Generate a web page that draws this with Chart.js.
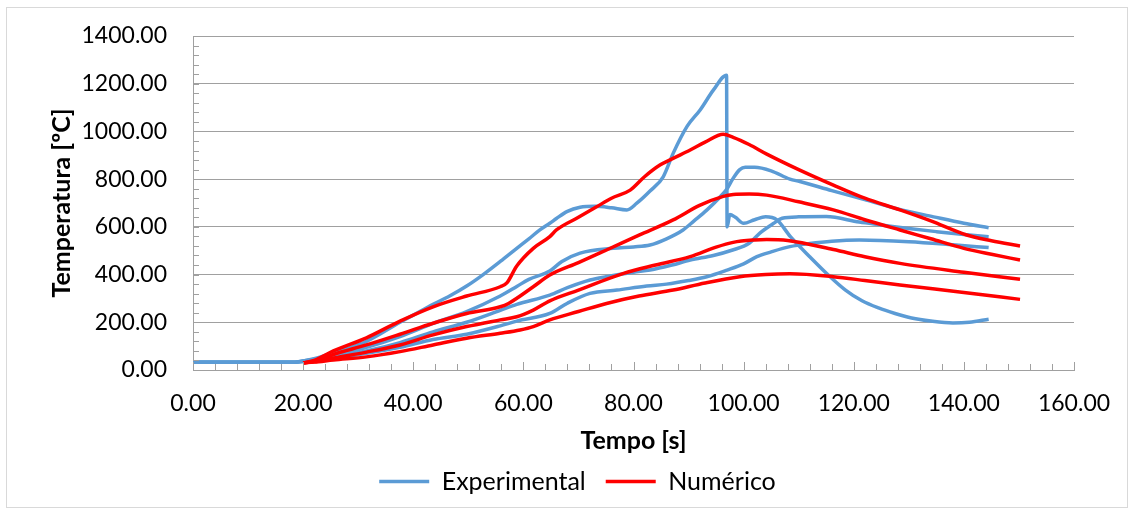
<!DOCTYPE html>
<html>
<head>
<meta charset="utf-8">
<script src="https://cdn.jsdelivr.net/npm/chart.js@4.4.1/dist/chart.umd.min.js"></script>
<style>
  html, body { margin: 0; padding: 0; background: #fff; }
  #wrap { width: 1134px; height: 515px; }
</style>
</head>
<body>
<div id="wrap"><canvas id="tempChart" width="1134" height="515"></canvas></div>
<script>
// experimental curves (time [s], temperature [ºC])
const exp1Time = [0, 18, 20, 22, 25.5, 31.5, 37.6, 40, 43.6, 46.6, 49.7, 52.7, 55.8, 58.8, 61, 63, 64.8, 66, 68, 70.3, 73, 76, 78.8, 80.6, 83, 85.4, 87.2, 89.7, 92.1, 94.5, 96.9, 97.0, 97.5, 98.5, 100, 102, 104, 106, 108.5, 112, 115.7, 118.5, 121.5, 124.5, 127.5, 130.5, 134, 138, 141, 144.5];
const exp1Temp = [32, 32, 38, 47, 72, 120, 200, 230, 275, 310, 352, 400, 455, 510, 550, 587, 615, 635, 665, 682, 686, 680, 671, 699, 750, 810, 908, 1020, 1090, 1173, 1236, 600, 652, 640, 615, 630, 642, 630, 559, 475, 391, 335, 290, 260, 237, 218, 205, 197, 200, 213];

const exp2Time = [0, 18, 20, 22, 25.5, 31.5, 37.6, 43.6, 49.7, 55.8, 58.8, 61, 64.8, 67, 70.3, 76.3, 80, 83, 86, 89, 91, 93.3, 95.5, 97, 98, 99.3, 100.3, 102, 105, 108.4, 110.2, 116, 122.3, 128, 134.5, 140, 144.5];
const exp2Temp = [32, 32, 38, 45, 62, 95, 140, 195, 245, 310, 350, 380, 415, 455, 490, 510, 516, 524, 550, 587, 625, 670, 720, 760, 800, 840, 850, 850, 835, 800, 790, 752, 712, 675, 642, 615, 596];

const exp3Time = [0, 18, 20, 22, 25.5, 31.5, 37.6, 43.6, 49.7, 55.8, 58.8, 64.8, 68, 72.1, 75, 80, 83, 87, 90.3, 94.5, 98, 101, 103, 105.4, 107, 110, 115, 121, 125, 130, 135, 140, 144.5];
const exp3Temp = [32, 32, 37, 43, 55, 80, 115, 160, 200, 250, 275, 314, 345, 377, 391, 410, 419, 440, 461, 480, 503, 531, 575, 614, 636, 642, 643, 620, 608, 593, 580, 568, 559];

const exp4Time = [0, 18, 20, 22, 25.5, 31.5, 37.6, 43.6, 49.7, 55.8, 58.8, 64.8, 68, 72.1, 77, 82.4, 86, 90, 93.3, 97, 100, 102.4, 105, 108.4, 112, 116, 121, 130, 138, 144.5];
const exp4Temp = [32, 32, 36, 42, 50, 70, 95, 128, 150, 185, 205, 237, 280, 321, 335, 352, 360, 375, 391, 419, 445, 475, 495, 517, 530, 540, 545, 538, 525, 513];

// numerical curves
const num1Time = [20, 22, 25.5, 31.5, 37.6, 43.6, 49.7, 55.8, 57, 58.8, 61.8, 64.8, 66, 70, 73.3, 76, 79.4, 82, 84.8, 87, 90.3, 93, 96.3, 98.1, 101, 104.2, 110, 116.3, 122, 128.4, 134, 140.5, 145, 150.2];
const num1Temp = [30, 40, 80, 135, 205, 265, 310, 349, 365, 436, 510, 559, 587, 640, 684, 720, 754, 810, 859, 885, 922, 955, 988, 975, 945, 905, 840, 775, 720, 671, 625, 566, 542, 520];

const num2Time = [20, 22, 25.5, 31.5, 37.6, 43.6, 49.7, 55.8, 57.3, 61.8, 64.8, 70, 75.1, 81, 87.2, 92, 96.3, 98.1, 101, 104.2, 110, 116.3, 122, 128.4, 134, 140, 145, 150.2];
const num2Temp = [30, 36, 65, 105, 150, 196, 237, 265, 279, 349, 398, 450, 503, 565, 629, 690, 728, 736, 738, 733, 705, 671, 630, 587, 550, 510, 485, 461];

const num3Time = [20, 22, 25.5, 31.5, 37.6, 43.6, 49.7, 55.8, 58.8, 61.8, 64.8, 70, 78.2, 84, 90.3, 95, 98.1, 102, 104.2, 108, 116.3, 122, 128.4, 140, 150.2];
const num3Temp = [30, 34, 50, 75, 105, 147, 182, 210, 223, 251, 290, 335, 405, 440, 475, 515, 535, 545, 547, 543, 505, 475, 447, 410, 380];

const num4Time = [20, 22, 25.5, 31.5, 37.6, 43.6, 49.7, 55.8, 59.4, 61.8, 64.8, 70, 75.1, 81, 87.2, 93, 99.3, 104, 108.4, 116.3, 122, 128.4, 140, 150.2];
const num4Temp = [30, 33, 42, 55, 77, 105, 133, 154, 168, 182, 210, 245, 279, 310, 335, 365, 391, 400, 403, 391, 375, 356, 325, 296];

const xTicks = [0, 20, 40, 60, 80, 100, 120, 140, 160];
const yTicks = [0, 200, 400, 600, 800, 1000, 1200, 1400];

const BLUE = '#5B9BD5';
const RED = '#FF0000';
const FONT = 'Lato, "Liberation Sans", sans-serif';

function toPoints(t, v) {
  return t.map((x, i) => ({ x: x, y: v[i] }));
}

function lineSet(label, t, v, color, order) {
  return {
    label: label,
    data: toPoints(t, v),
    borderColor: color,
    backgroundColor: color,
    borderWidth: 3.5,
    pointRadius: 0,
    cubicInterpolationMode: 'monotone',
    fill: false,
    order: order,
  };
}

// chart frame + small inside tick marks
const framePlugin = {
  id: 'frame',
  beforeDraw(chart) {
    const ctx = chart.ctx;
    ctx.save();
    ctx.fillStyle = '#fff';
    ctx.fillRect(0, 0, chart.width, chart.height);
    ctx.strokeStyle = '#D9D9D9';
    ctx.lineWidth = 1;
    ctx.strokeRect(6.5, 7.5, 1121, 500);
    ctx.restore();
  },
  afterDatasetsDraw(chart) {
    const { ctx, scales: { x, y } } = chart;
    ctx.save();
    ctx.strokeStyle = '#A0A0A0';
    ctx.lineWidth = 1;
    ctx.beginPath();
    for (let v = 0; v <= 1400; v += 40) {
      const py = Math.round(y.getPixelForValue(v)) + 0.5;
      ctx.moveTo(x.left, py);
      ctx.lineTo(x.left + 6, py);
    }
    for (let v = 0; v <= 160; v += 4) {
      const px = Math.round(x.getPixelForValue(v)) + 0.5;
      const len = v % 20 === 0 ? 8 : 6;
      ctx.moveTo(px, y.bottom);
      ctx.lineTo(px, y.bottom - len);
    }
    ctx.stroke();
    ctx.restore();
  },
};

const ctx = document.getElementById('tempChart').getContext('2d');
new Chart(ctx, {
  type: 'line',
  data: {
    datasets: [
      lineSet('Experimental', exp1Time, exp1Temp, BLUE, 2),
      lineSet('Experimental', exp2Time, exp2Temp, BLUE, 2),
      lineSet('Experimental', exp3Time, exp3Temp, BLUE, 2),
      lineSet('Experimental', exp4Time, exp4Temp, BLUE, 2),
      lineSet('Numérico', num1Time, num1Temp, RED, 1),
      lineSet('Numérico', num2Time, num2Temp, RED, 1),
      lineSet('Numérico', num3Time, num3Temp, RED, 1),
      lineSet('Numérico', num4Time, num4Temp, RED, 1),
    ],
  },
  plugins: [framePlugin],
  options: {
    responsive: false,
    animation: false,
    layout: { padding: { left: 47, top: 36, right: 26, bottom: 11 } },
    plugins: {
      tooltip: { enabled: false },
      legend: {
        position: 'bottom',
        labels: {
          usePointStyle: true,
          pointStyle: 'line',
          pointStyleWidth: 50,
          padding: 20,
          color: '#000',
          font: { family: FONT, size: 25 },
          filter: (item) => item.datasetIndex === 0 || item.datasetIndex === 4,
          sort: (a, b) => a.datasetIndex - b.datasetIndex,
        },
      },
    },
    scales: {
      x: {
        type: 'linear',
        min: 0,
        max: 160,
        afterBuildTicks: (scale) => { scale.ticks = xTicks.map((v) => ({ value: v })); },
        afterFit: (scale) => {
          scale.height = 79;
          scale.paddingRight = 60;
        },
        ticks: {
          padding: 20,
          color: '#000',
          font: { family: FONT, size: 23 },
          maxRotation: 0,
          callback: (v) => Number(v).toFixed(2),
        },
        grid: { display: false, drawTicks: false },
        border: { display: true, color: '#A0A0A0', width: 1 },
        title: {
          display: true,
          text: 'Tempo [s]',
          color: '#000',
          font: { family: FONT, size: 25, weight: 'bold' },
          padding: { top: 0, bottom: -7 },
        },
      },
      y: {
        min: 0,
        max: 1400,
        afterBuildTicks: (scale) => { scale.ticks = yTicks.map((v) => ({ value: v })); },
        afterFit: (scale) => {
          scale.width = 146;
          scale.paddingTop = 10;
          scale.paddingBottom = 10;
        },
        ticks: {
          padding: 26,
          color: '#000',
          font: { family: FONT, size: 23 },
          callback: (v) => Number(v).toFixed(2),
        },
        grid: { color: '#A0A0A0', drawTicks: false },
        border: { display: true, color: '#A0A0A0', width: 1 },
        title: {
          display: true,
          text: 'Temperatura [ºC]',
          color: '#000',
          font: { family: FONT, size: 25, weight: 'bold' },
          padding: { top: 0, bottom: 0 },
        },
      },
    },
  },
});
</script>
</body>
</html>
